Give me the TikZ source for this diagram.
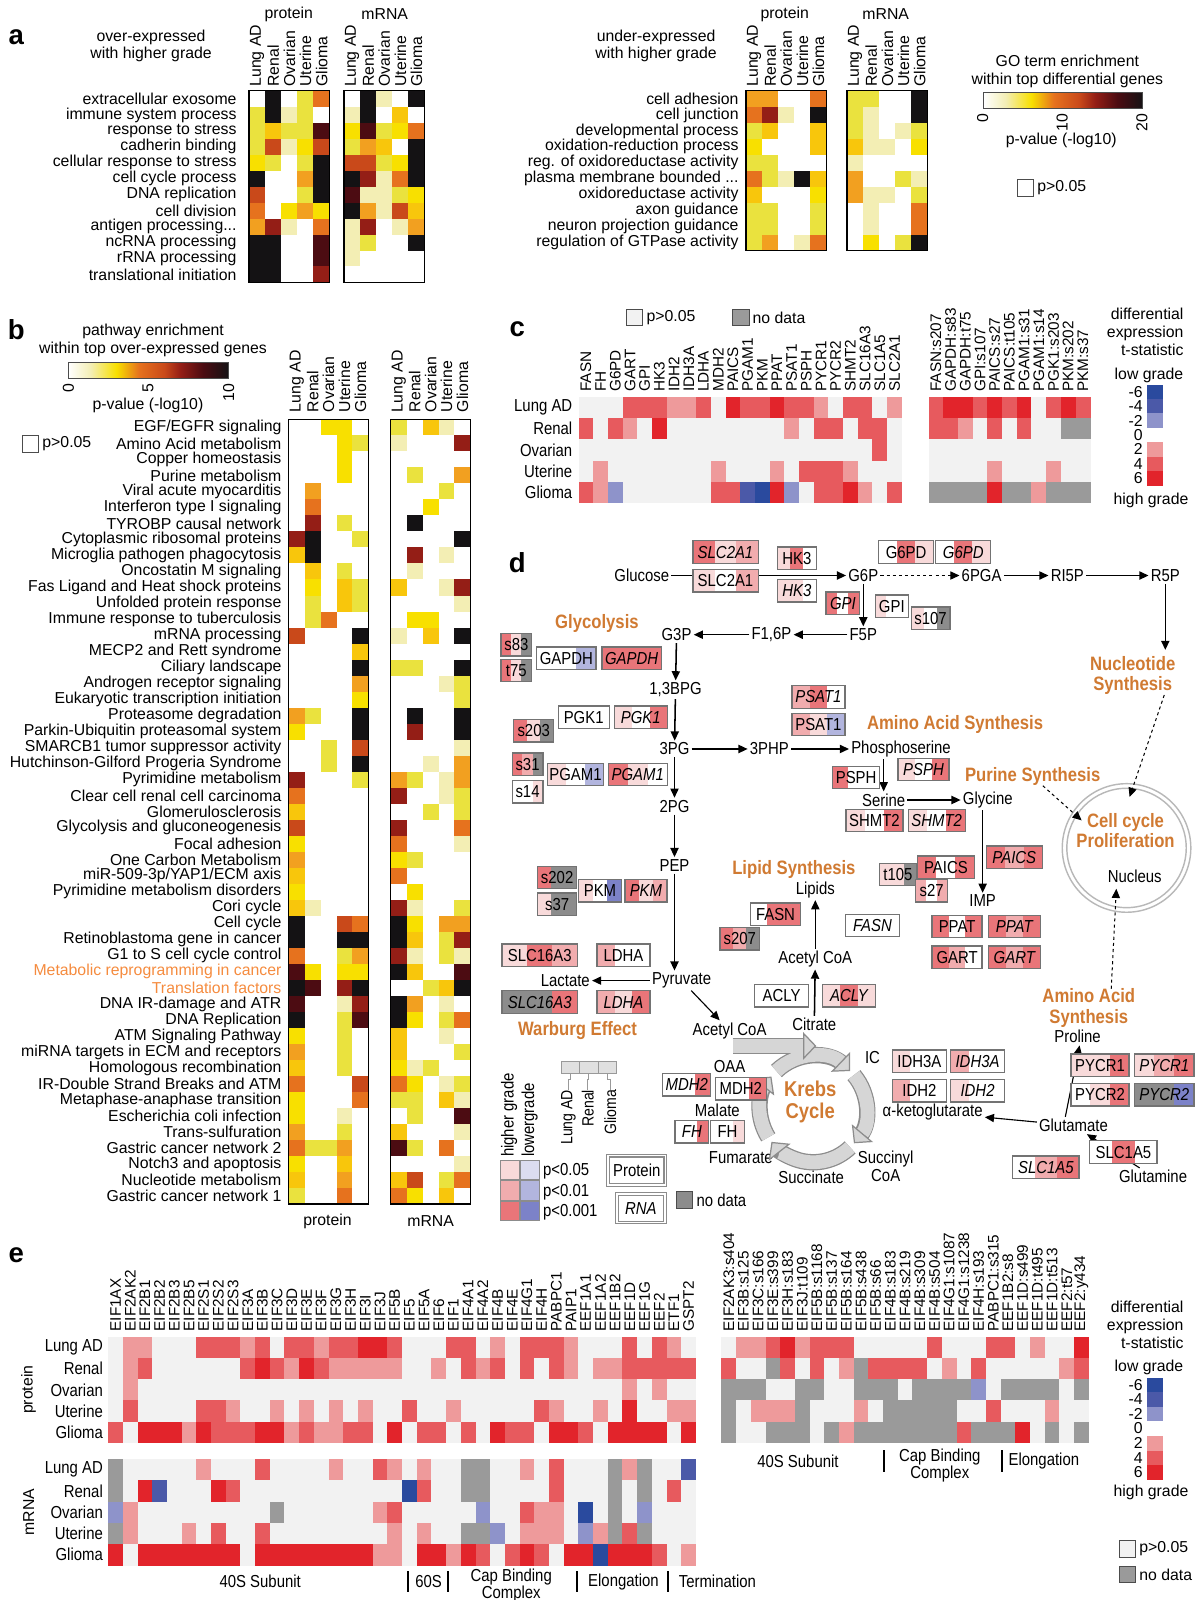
\documentclass[tikz,border=0pt]{standalone}
\usepackage{fontspec}
\setmainfont{Liberation Sans}
\newfontfamily\narrow[FakeStretch=0.86]{Liberation Sans}
\usetikzlibrary{arrows.meta,positioning,calc}

% enrichment scale (white - yellow - red - black)
\definecolor{hmw}{HTML}{FFFFFF}
\definecolor{hm1}{HTML}{F3EEB4}
\definecolor{hm2}{HTML}{EAE23E}
\definecolor{hm3}{HTML}{F8E000}
\definecolor{hm4}{HTML}{F8C60C}
\definecolor{hm5}{HTML}{F2A020}
\definecolor{hm6}{HTML}{E6721E}
\definecolor{hm7}{HTML}{C9491A}
\definecolor{hm8}{HTML}{941E16}
\definecolor{hm9}{HTML}{4C0C12}
\definecolor{hmk}{HTML}{141214}
% t-statistic scale
\definecolor{hmo}{HTML}{F2F2F2}
\definecolor{hma}{HTML}{EE9A9B}
\definecolor{hmb}{HTML}{E75A5E}
\definecolor{hmc}{HTML}{E2242B}
\definecolor{hmx}{HTML}{8E93CA}
\definecolor{hmy}{HTML}{4B59A8}
\definecolor{hmz}{HTML}{2A4A9E}
\definecolor{hmg}{HTML}{9A9A9A}
% pathway boxes
\definecolor{d0}{HTML}{FFFFFF}
\definecolor{d1}{HTML}{F8DADA}
\definecolor{d2}{HTML}{F1ACAE}
\definecolor{d3}{HTML}{E97579}
\definecolor{du}{HTML}{DCDDF0}
\definecolor{dv}{HTML}{B2B5DE}
\definecolor{dw}{HTML}{7C82C8}
\definecolor{dg}{HTML}{8C8C8C}
\definecolor{pathorange}{HTML}{D07A32}
\definecolor{listorange}{HTML}{F58B3E}

\pgfdeclarehorizontalshading{hotbar}{100bp}{color(0bp)=(white); color(25bp)=(white);
  color(32bp)=(hm1); color(40bp)=(hm3); color(47bp)=(hm6); color(55bp)=(hm7);
  color(60bp)=(hm8); color(67bp)=(hm9); color(75bp)=(hmk); color(100bp)=(hmk)}

% one heat map row from a string of colour letters
\newcount\hcol
\newcommand\hrow[5]{%
  \pgfmathsetmacro\hrX{#1}\pgfmathsetmacro\hrY{#2}%
  \def\hrW{#3}\def\hrH{#4}\global\hcol=0
  \edef\hstr{#5}\expandafter\hrowparse\hstr\relax}
\def\hrowparse#1{%
  \ifx#1\relax\else
    \pgfmathsetmacro\hrC{\hrX+\the\hcol*\hrW}%
    \fill[hm#1] (\hrC,\hrY) rectangle +(\hrW+0.4,\hrH+0.4);%
    \global\advance\hcol by 1
    \expandafter\hrowparse
  \fi}

% gene box: name, x, y, width, text, Lung AD / Renal / Glioma colours
\newcommand\gene[8]{%
  \fill[d#6] ({#2-#4/2},{#3-11}) rectangle ++({#4/3},22);
  \fill[d#7] ({#2-#4/6},{#3-11}) rectangle ++({#4/3},22);
  \fill[d#8] ({#2+#4/6},{#3-11}) rectangle ++({#4/3},22);
  \node[genebox, minimum width=#4] (#1) at (#2,#3) {#5};}

\begin{document}
\begin{tikzpicture}[x=1pt, y=-1pt,
    every node/.style={inner sep=0pt},
    plabel/.style={font=\fontsize{27}{27}\selectfont\bfseries},
    txt/.style={font=\fontsize{15.5}{17.5}\selectfont},
    rowlbl/.style={txt, anchor=east},
    collbl/.style={txt, rotate=90, anchor=west},
    smlbl/.style={font=\fontsize{15}{15}\selectfont, rotate=90, anchor=west},
    nrlbl/.style={font=\narrow\fontsize{17}{17}\selectfont, anchor=east},
    grplbl/.style={font=\narrow\fontsize{17}{15}\selectfont, align=center},
    hmframe/.style={draw=black, line width=1.3pt},
    keybox/.style={draw=black!70, line width=0.8pt, minimum size=16pt},
    met/.style={font=\narrow\fontsize{17}{17}\selectfont, inner sep=2pt},
    pathway/.style={font=\narrow\fontsize{19}{20}\selectfont\bfseries, text=pathorange, align=center},
    genebox/.style={draw=black!55, line width=1.3pt, minimum height=22pt,
      font=\narrow\fontsize{17}{17}\selectfont},
    keyframe/.style={draw=black!45, double=white, double distance=1.5pt, line width=1.1pt,
      font=\narrow\fontsize{17}{17}\selectfont},
    arrow/.style={-{Triangle[length=9pt,width=8pt]}, line width=1.5pt},
    dasharrow/.style={-{Triangle[length=9pt,width=8pt]}, line width=1pt, dashed},
    krebsrim/.style={line width=16pt, draw=black!45, shorten >=10pt},
    krebsarc/.style={line width=13.5pt, draw=black!16,
      -{Triangle[length=13pt,width=27pt,line width=1.2pt,color=black!45,fill=black!16]}}
  ]
  \useasboundingbox (0,0) rectangle (1173,1568);

  %% ---------------- a ----------------
  \node[plabel] (la) at (16,36) {a};
  \node[txt, align=center] (aover) at (148,45) {over-expressed\\with higher grade};
  \node[txt] (aprot) at (283,14) {protein};
  \node[txt] (amrna) at (377,14) {mRNA};
  \node[txt, align=center] (aunder) at (643,45) {under-expressed\\with higher grade};
  \node[txt] (aprot2) at (769,14) {protein};
  \node[txt] (amrna2) at (868,14) {mRNA};
  \foreach \c [count=\i from 0] in {Lung AD,Renal,Ovarian,Uterine,Glioma} {
    \node[collbl] (apc\i) at (252+15.8*\i,85) {\c};
    \node[collbl] (amc\i) at (345+15.8*\i,85) {\c};
    \node[collbl] (bpc\i) at (739+15.8*\i,85) {\c};
    \node[collbl] (bmc\i) at (838+15.8*\i,85) {\c};
  }
  \foreach \t [count=\i from 0] in {extracellular exosome,
      immune system process,
      response to stress,
      cadherin binding,
      cellular response to stress,
      cell cycle process,
      DNA replication,
      cell division,
      {antigen processing.{}..},
      ncRNA processing,
      rRNA processing,
      translational initiation}
    \node[rowlbl] (ar\i) at (232,97+15.65*\i) {\t};
  \foreach \r [count=\i from 0] in {wkw26,2k12w,24229,27137,32w2k,kww5k,7ww2k,6w353,581w6,kkww9,kkww9,kkww8}
    {\hrow{244}{89+\i*15.65}{15.8}{15.65}{\r}}
  \foreach \r [count=\i from 0] in {wk1wk,1kw4w,39236,254wk,7723k,k816k,91123,k5174,18w15,12wwk,1wwww,wwwww}
    {\hrow{337}{89+\i*15.65}{15.8}{15.65}{\r}}
  \draw[hmframe] (244,89) rectangle +(79,187.8);
  \draw[hmframe] (337,89) rectangle +(79,187.8);

  \foreach \t [count=\i from 0] in {cell adhesion,
      cell junction,
      developmental process,
      oxidation-reduction process,
      reg. of oxidoreductase activity,
      {plasma membrane bounded .{}..},
      oxidoreductase activity,
      axon guidance,
      neuron projection guidance,
      regulation of GTPase activity}
    \node[rowlbl] (br\i) at (724,97+15.65*\i) {\t};
  \foreach \r [count=\i from 0] in {55ww6,681wk,24ww4,3www4,22www,621k4,4www3,22ww2,22ww2,25w16}
    {\hrow{731}{89+\i*15.65}{15.8}{15.65}{\r}}
  \foreach \r [count=\i from 0] in {22wwk,21wwk,21w12,411w3,1wwww,5ww21,511w2,w1ww6,w1ww6,w3w2k}
    {\hrow{830}{89+\i*15.65}{15.8}{15.65}{\r}}
  \draw[hmframe] (731,89) rectangle +(79,156.5);
  \draw[hmframe] (830,89) rectangle +(79,156.5);

  % GO colour bar
  \node[txt, align=center] (goti) at (1046,70) {GO term enrichment\\within top differential genes};
  \shade[shading=hotbar] (964,91) rectangle (1120,106);
  \draw[black!70, line width=1pt] (964,91) rectangle (1120,106);
  \node[txt, rotate=90, anchor=east] (got0) at (963,111) {0};
  \node[txt, rotate=90, anchor=east] (got1) at (1041,111) {10};
  \node[txt, rotate=90, anchor=east] (got2) at (1119,111) {20};
  \node[txt] (gopv) at (1040,138) {p-value (-log10)};
  \node[keybox] (gons) at (1005,184) {};
  \node[txt, right=3pt of gons] (gonst) {p>0.05};

  %% ---------------- b ----------------
  \node[plabel] (lb) at (16,323) {b};
  \node[txt, align=center] (bti) at (150,334) {pathway enrichment\\within top over-expressed genes};
  \shade[shading=hotbar] (67,355) rectangle (224,371);
  \draw[black!70, line width=1pt] (67,355) rectangle (224,371);
  \node[txt, rotate=90, anchor=east] (bt0) at (67,376) {0};
  \node[txt, rotate=90, anchor=east] (bt1) at (145,376) {5};
  \node[txt, rotate=90, anchor=east] (bt2) at (224,376) {10};
  \node[txt] (bpv) at (145,397) {p-value (-log10)};
  \node[keybox] (bns) at (30,435) {};
  \node[txt, right=3pt of bns] (bnst) {p>0.05};
  \foreach \c [count=\i from 0] in {Lung AD,Renal,Ovarian,Uterine,Glioma} {
    \node[collbl] (cpc\i) at (290.8+15.6*\i,404) {\c};
    \node[collbl] (cmc\i) at (390.8+15.6*\i,404) {\c};
  }
  \foreach \t [count=\i from 0] in {EGF/EGFR signaling,
      Amino Acid metabolism,
      Copper homeostasis,
      Purine metabolism,
      Viral acute myocarditis,
      Interferon type I signaling,
      TYROBP causal network,
      Cytoplasmic ribosomal proteins,
      Microglia pathogen phagocytosis,
      Oncostatin M signaling,
      Fas Ligand and Heat shock proteins,
      Unfolded protein response,
      Immune response to tuberculosis,
      mRNA processing,
      MECP2 and Rett syndrome,
      Ciliary landscape,
      Androgen receptor signaling,
      Eukaryotic transcription initiation,
      Proteasome degradation,
      Parkin-Ubiquitin proteasomal system,
      SMARCB1 tumor suppressor activity,
      Hutchinson-Gilford Progeria Syndrome,
      Pyrimidine metabolism,
      Clear cell renal cell carcinoma,
      Glomerulosclerosis,
      Glycolysis and gluconeogenesis,
      Focal adhesion,
      One Carbon Metabolism,
      miR-509-3p/YAP1/ECM axis,
      Pyrimidine metabolism disorders,
      Cori cycle,
      Cell cycle,
      Retinoblastoma gene in cancer,
      G1 to S cell cycle control,
      {\textcolor{listorange}{Metabolic reprogramming in cancer}},
      {\textcolor{listorange}{Translation factors}},
      DNA IR-damage and ATR,
      DNA Replication,
      ATM Signaling Pathway,
      miRNA targets in ECM and receptors,
      Homologous recombination,
      IR-Double Strand Breaks and ATM,
      Metaphase-anaphase transition,
      Escherichia coli infection,
      Trans-sulfuration,
      Gastric cancer network 2,
      Notch3 and apoptosis,
      Nucleotide metabolism,
      Gastric cancer network 1}
    \node[rowlbl] (pw\i) at (276,419+15.69*\i) {\t};
  \foreach \r [count=\i from 0] in {ww33w,www32,www3w,www3w,w5www,w6www,w8w2w,8kww2,4kwww,w4w2w,
      w3w42,w2w42,w26ww,7wwwk,wwww4,wwwwk,wwww5,wwww3,52wwk,3wwwk,
      ww2w7,ww2wk,8www2,6wwww,4wwww,7wwww,3wwww,5wwww,4wwww,3wwww,
      41www,kww76,kwwkk,6ww25,93w33,k9w8k,9ww18,kww29,3ww2w,5ww2w,
      4ww2w,6www7,3www6,3ww1w,5ww2w,6225w,3ww4w,4ww5w,2ww6w}
    {\hrow{283}{411+\i*15.69}{15.6}{15.69}{\r}}
  \foreach \r [count=\i from 0] in {2w41w,1www8,wwwww,w2ww5,www2w,ww3ww,wkwww,wwwwk,w8w1w,w1www,
      4ww18,wwww1,w33ww,1w4wk,wwwww,22wwk,www12,wwww2,wkwwk,w8wwk,
      wwww1,ww1w5,52w15,8ww12,ww2w2,8www6,6www1,32www,6wwww,w3www,
      81ww2,k3w55,k4w28,81w21,k4ww9,ww24k,k5w1w,k3w26,4ww1w,4www2,
      312ww,63w12,22w41,w2ww9,4www1,92w6w,wwww1,47w26,63w4w}
    {\hrow{383}{411+\i*15.69}{15.6}{15.69}{\r}}
  \draw[hmframe] (283,411) rectangle +(78,768.8);
  \draw[hmframe] (383,411) rectangle +(78,768.8);
  \node[txt] (bprot) at (321,1197) {protein};
  \node[txt] (bmrna) at (422,1197) {mRNA};

  %% ---------------- c ----------------
  \node[plabel] (lc) at (507,323) {c};
  \node[keybox, fill=hmo] (cns) at (622,311) {};
  \node[txt, right=3pt of cns] (cnst) {p>0.05};
  \node[keybox, fill=hmg] (cnd) at (726,311) {};
  \node[txt, right=3pt of cnd] (cndt) {no data};
  \foreach \c [count=\i from 0] in {FASN,FH,G6PD,GART,GPI,HK3,IDH2,IDH3A,LDHA,MDH2,PAICS,
      PGAM1,PKM,PPAT,PSAT1,PSPH,PYCR1,PYCR2,SHMT2,SLC16A3,SLC1A5,SLC2A1}
    \node[smlbl] (cg\i) at (574.2+14.4*\i,384) {\c};
  \foreach \c [count=\i from 0] in {FASN:s207,GAPDH:s83,GAPDH:t75,GPI:s107,PAICS:s27,
      PAICS:t105,PGAM1:s31,PGAM1:s14,PGK1:s203,PKM:s202,PKM:s37}
    \node[smlbl] (cs\i) at (917.2+14.4*\i,384) {\c};
  \foreach \t [count=\i from 0] in {Lung AD,Renal,Ovarian,Uterine,Glioma}
    \node[nrlbl] (cr\i) at (561,399.4+20.8*\i) {\t};
  \foreach \r [count=\i from 0] in {ooobbbaabocbbcbbaobboa,bobaocooooooooaobbobbo,
      oooooooooooooooooooobo,oaoooooooaoooaobbbaooo,baxoooooobbyzcxobbcaob}
    {\hrow{567}{389+\i*20.8}{14.4}{20.8}{\r}}
  \foreach \r [count=\i from 0] in {bccbcbcobcb,bbaoboboogg,ooooooooooo,ooooaoooaoo,ggggcggaggg}
    {\hrow{910}{389+\i*20.8}{14.4}{20.8}{\r}}
  % t-statistic key
  \node[txt, align=right, anchor=east] (ckt) at (1160,325) {differential\\expression\\t-statistic};
  \node[txt] (cklo) at (1126,368) {low grade};
  \foreach \c [count=\i from 0] in {hmz,hmy,hmx,white,hma,hmb,hmc}
    \fill[\c] (1124,377+14.1*\i) rectangle +(16,14.5);
  \foreach \n [count=\i from 0] in {-6,-4,-2,0,2,4,6}
    \node[txt, anchor=east] (ckn\i) at (1120,384+14.1*\i) {\n};
  \node[txt] (ckhi) at (1128,490) {high grade};

  %% ---------------- d ----------------
  \node[plabel] (ld) at (507,551) {d};
  \coordinate (cc) at (1104,831);
  \coordinate (nucN) at (1107,781);
  \coordinate (nucW) at (1060,804);
  \coordinate (nucS) at (1094,871);
  \coordinate (kc) at (797,1087);
  \coordinate (acin) at (718,1025);
  \coordinate (acout) at (800,1025);
  \draw[black!28, line width=1.4pt] (cc) circle[radius=63];
  \draw[black!28, line width=1.4pt] (cc) circle[radius=58.5];

  % metabolites
  \node[met] (glucose) at (629,564) {Glucose};
  \node[met] (g6p) at (846,564) {G6P};
  \node[met] (pga6) at (962,564) {6PGA};
  \node[met] (ri5p) at (1046,564) {RI5P};
  \node[met] (r5p) at (1142,564) {R5P};
  \node[met] (f5p) at (846,622) {F5P};
  \node[met] (f16p) at (756,622) {F1,6P};
  \node[met] (g3p) at (663,622) {G3P};
  \node[met] (bpg) at (662,676) {1,3BPG};
  \node[met] (pg3) at (661,734) {3PG};
  \node[met] (php) at (754,734) {3PHP};
  \node[met] (pser) at (883,734) {Phosphoserine};
  \node[met] (pg2) at (661,790) {2PG};
  \node[met] (serine) at (866,784) {Serine};
  \node[met] (glycine) at (968,784) {Glycine};
  \node[met] (pep) at (661,848) {PEP};
  \node[met] (imp) at (963,883) {IMP};
  \node[met] (lipids) at (799,872) {Lipids};
  \node[met] (acoaup) at (799,940) {Acetyl CoA};
  \node[met] (citrate) at (798,1004) {Citrate};
  \node[met] (pyruvate) at (668,961) {Pyruvate};
  \node[met] (lactate) at (554,961) {Lactate};
  \node[met] (acoa) at (715,1010) {Acetyl CoA};
  \node[met] (oaa) at (715,1045) {OAA};
  \node[met] (ic) at (855,1036) {IC};
  \node[met] (malate) at (703,1088) {Malate};
  \node[met] (fumarate) at (726,1134) {Fumarate};
  \node[met] (succinate) at (795,1154) {Succinate};
  \node[met, align=center] (succoa) at (868,1143) {Succinyl\\CoA};
  \node[met] (akg) at (914,1090) {α-ketoglutarate};
  \node[met] (glutamate) at (1052,1103) {Glutamate};
  \node[met] (glutamine) at (1130,1153) {Glutamine};
  \node[met] (proline) at (1056,1016) {Proline};
  \node[met] (nucleus) at (1112,859) {Nucleus};

  % pathway names
  \node[pathway] (glyco) at (585,611) {Glycolysis};
  \node[pathway] (nucsyn) at (1110,662) {Nucleotide\\Synthesis};
  \node[pathway] (aasyn) at (936,710) {Amino Acid Synthesis};
  \node[pathway] (pursyn) at (1012,761) {Purine Synthesis};
  \node[pathway] (ccyc) at (1103,814) {Cell cycle\\Proliferation};
  \node[pathway] (lipsyn) at (778,852) {Lipid Synthesis};
  \node[pathway] (warburg) at (566,1010) {Warburg Effect};
  \node[pathway] (aasyn2) at (1067,988) {Amino Acid\\Synthesis};

  % Krebs cycle
  \foreach \a/\b in {226/314,320/400,46/142,148/218}
    \draw[krebsrim] ([shift={(\a:52)}]kc) arc[start angle=\a, end angle=\b, radius=52];
  \draw[krebsrim] (acin) -- (acout);
  \foreach \a/\b in {226/314,320/400,46/142,148/218}
    \draw[krebsarc] ([shift={(\a:52)}]kc) arc[start angle=\a, end angle=\b, radius=52];
  \draw[krebsarc] (acin) -- (acout);
  \node[pathway, font=\narrow\fontsize{21}{21}\selectfont\bfseries] (krebs) at (794,1080) {Krebs\\Cycle};

  % reactions
  \draw[arrow] (glucose) -- (g6p);
  \draw[dasharrow, line width=1.2pt] (g6p) -- (pga6);
  \draw[arrow] (pga6) -- (ri5p);
  \draw[arrow] (ri5p) -- (r5p);
  \draw[arrow, shorten >=6pt] (r5p) -- (r5p |- nucsyn.north);
  \draw[arrow] (g6p) -- (f5p);
  \draw[arrow] (f5p) -- (f16p);
  \draw[arrow] (f16p) -- (g3p);
  \draw[arrow] (g3p) -- (bpg);
  \draw[arrow] (bpg) -- (pg3);
  \draw[arrow] (pg3) -- (pg2);
  \draw[arrow] (pg2) -- (pep);
  \draw[arrow] (pep) -- (pep |- pyruvate.north);
  \draw[arrow] (pg3) -- (php);
  \draw[arrow] (php) -- (pser);
  \draw[arrow] (serine.north |- pser.south) -- (serine);
  \draw[arrow] (serine) -- (glycine);
  \draw[arrow] (imp.north |- glycine.south) -- (imp);
  \draw[arrow] (pyruvate) -- (lactate);
  \draw[arrow, line width=1.1pt] (pyruvate) -- (acoa);
  \draw[arrow] (citrate) -- (acoaup);
  \draw[arrow] (acoaup) -- (lipids);
  \draw[arrow, line width=1.1pt] (glutamate) -- (akg);
  \draw[arrow, line width=1.1pt] ([xshift=-8pt]glutamate.north) -- ([xshift=2pt]proline.south);
  \draw[arrow, line width=1.1pt] (glutamine) -- (glutamate);
  \draw[dasharrow] ([xshift=31pt]nucsyn.south) -- (nucN);
  \draw[dasharrow] ([xshift=10pt]pursyn.south) -- (nucW);
  \draw[dasharrow] ([xshift=22pt]aasyn2.north) -- (nucS);

  % protein (upright) and RNA (italic) boxes
  \gene{slcaR}{711}{541}{64}{\itshape SLC2A1}{3}{1}{2}
  \gene{slcaP}{711}{569}{64}{SLC2A1}{1}{0}{2}
  \gene{hkP}{781}{547}{38}{HK3}{1}{3}{0}
  \gene{hkR}{781}{579}{38}{\itshape HK3}{1}{1}{0}
  \gene{gpdP}{888}{541}{54}{G6PD}{0}{3}{1}
  \gene{gpdR}{944}{541}{54}{\itshape G6PD}{0}{3}{1}
  \gene{gpiR}{826}{591}{33}{\itshape GPI}{3}{0}{3}
  \gene{gpiP}{874}{594}{32}{GPI}{1}{0}{0}
  \gene{sA}{912}{606}{38}{s107}{1}{0}{g}
  \gene{sB}{506}{632}{30}{s83}{3}{1}{g}
  \gene{sC}{506}{657}{30}{t75}{3}{1}{g}
  \gene{gapP}{555}{645}{58}{GAPDH}{0}{0}{v}
  \gene{gapR}{619}{645}{58}{\itshape GAPDH}{3}{3}{3}
  \gene{sD}{523}{716}{39}{s203}{3}{1}{g}
  \gene{pgkP}{572}{703}{50}{PGK1}{0}{0}{0}
  \gene{pgkR}{628}{703}{52}{\itshape PGK1}{1}{0}{3}
  \gene{psatR}{802}{683}{52}{\itshape PSAT1}{2}{3}{0}
  \gene{psatP}{802}{710}{52}{PSAT1}{2}{1}{v}
  \gene{sE}{517}{749}{30}{s31}{3}{2}{g}
  \gene{sF}{517}{776}{30}{s14}{0}{0}{1}
  \gene{pgamP}{564}{759}{55}{PGAM1}{1}{0}{v}
  \gene{pgamR}{625}{759}{58}{\itshape PGAM1}{3}{1}{0}
  \gene{psphP}{839}{762}{46}{PSPH}{3}{0}{0}
  \gene{psphR}{905}{754}{50}{\itshape PSPH}{1}{0}{3}
  \gene{shmP}{857}{804}{56}{SHMT2}{1}{0}{3}
  \gene{shmR}{918}{804}{56}{\itshape SHMT2}{1}{0}{3}
  \gene{paicsR}{994}{840}{55}{\itshape PAICS}{3}{2}{3}
  \gene{paicsP}{927}{850}{56}{PAICS}{3}{0}{3}
  \gene{sG}{880}{857}{36}{t105}{1}{1}{g}
  \gene{sH}{913}{873}{31}{s27}{2}{0}{2}
  \gene{ppatP}{938}{908}{49}{PPAT}{3}{0}{3}
  \gene{ppatR}{994}{908}{51}{\itshape PPAT}{3}{2}{3}
  \gene{gartP}{938}{938}{49}{GART}{3}{2}{0}
  \gene{gartR}{994}{938}{51}{\itshape GART}{3}{2}{3}
  \gene{sI}{546}{860}{38}{s202}{3}{g}{g}
  \gene{sJ}{546}{886}{38}{s37}{1}{g}{g}
  \gene{pkmP}{588}{873}{42}{PKM}{1}{0}{w}
  \gene{pkmR}{633}{873}{41}{\itshape PKM}{3}{1}{2}
  \gene{fasnP}{760}{896}{49}{FASN}{0}{3}{3}
  \gene{sK}{725}{920}{39}{s207}{3}{2}{g}
  \gene{fasnR}{855}{907}{53}{\itshape FASN}{0}{0}{0}
  \gene{aclyP}{766}{976}{53}{ACLY}{0}{0}{0}
  \gene{aclyR}{832}{976}{52}{\itshape ACLY}{1}{3}{1}
  \gene{mctP}{529}{936}{74}{SLC16A3}{1}{3}{2}
  \gene{ldhP}{611}{936}{52}{LDHA}{2}{0}{0}
  \gene{mctR}{529}{982}{74}{\itshape SLC16A3}{g}{g}{3}
  \gene{ldhR}{611}{982}{52}{\itshape LDHA}{2}{1}{3}
  \gene{mdhR}{673}{1063}{47}{\itshape MDH2}{0}{0}{3}
  \gene{mdhP}{726}{1067}{50}{MDH2}{0}{0}{3}
  \gene{fhR}{678}{1109}{33}{\itshape FH}{0}{0}{3}
  \gene{fhP}{713}{1109}{33}{FH}{0}{0}{1}
  \gene{idhaP}{901}{1040}{53}{IDH3A}{1}{0}{0}
  \gene{idhaR}{958}{1040}{53}{\itshape IDH3A}{2}{0}{0}
  \gene{idhP}{901}{1069}{53}{IDH2}{2}{0}{0}
  \gene{idhR}{958}{1069}{53}{\itshape IDH2}{1}{0}{0}
  \gene{pycaP}{1078}{1044}{57}{PYCR1}{1}{1}{3}
  \gene{pycaR}{1141}{1044}{58}{\itshape PYCR1}{1}{2}{3}
  \gene{pycbP}{1078}{1073}{57}{PYCR2}{0}{1}{3}
  \gene{pycbR}{1141}{1073}{58}{\itshape PYCR2}{g}{g}{w}
  \gene{ascP}{1101}{1129}{66}{SLC1A5}{0}{3}{0}
  \gene{ascR}{1025}{1144}{65}{\itshape SLC1A5}{0}{2}{3}

  % key of panel d
  \node[font=\narrow\fontsize{17}{17}\selectfont, rotate=90, anchor=west] (khi) at (499,1134) {higher grade};
  \node[font=\narrow\fontsize{17}{17}\selectfont, rotate=90, anchor=west] (klo) at (519,1134) {lowergrade};
  \foreach \c [count=\i from 0] in {d1,d2,d3}
    \filldraw[fill=\c, draw=black!45, line width=0.8pt] (490,1137+20*\i) rectangle +(19,19);
  \foreach \c [count=\i from 0] in {du,dv,dw}
    \filldraw[fill=\c, draw=black!45, line width=0.8pt] (510,1137+20*\i) rectangle +(19,19);
  \foreach \t [count=\i from 0] in {p<0.05,p<0.01,p<0.001}
    \node[font=\narrow\fontsize{17}{17}\selectfont, anchor=west] (kp\i) at (532,1148+20*\i) {\t};
  \filldraw[fill=black!12, draw=black!40, line width=0.8pt] (550,1040) rectangle (604,1052);
  \draw[black!40, line width=0.8pt] (568,1040) -- (568,1052) (586,1040) -- (586,1052);
  \foreach \x/\lx/\t [count=\i from 0] in {559/557/Lung AD,577/576/Renal,595/598/Glioma} {
    \node[font=\narrow\fontsize{16}{16}\selectfont, rotate=90, anchor=east] (kt\i) at (\lx,1068) {\t};
    \draw[black!40, line width=0.8pt] (\x,1052) -- (\x,1058) -| (kt\i.east);
  }
  \node[keyframe, minimum width=56pt, minimum height=29pt] (kprot) at (624,1147) {Protein};
  \node[keyframe, minimum width=47pt, minimum height=28pt, font=\narrow\fontsize{17}{17}\selectfont\itshape] (krna) at (628,1184) {RNA};
  \node[keybox, fill=dg] (knd) at (671,1176) {};
  \node[font=\narrow\fontsize{17}{17}\selectfont, right=3pt of knd] (kndt) {no data};

  %% ---------------- e ----------------
  \node[plabel] (le) at (16,1230) {e};
  \foreach \c [count=\i from 0] in {EIF1AX,EIF2AK2,EIF2B1,EIF2B2,EIF2B3,EIF2B5,EIF2S1,EIF2S2,
      EIF2S3,EIF3A,EIF3B,EIF3C,EIF3D,EIF3E,EIF3F,EIF3G,EIF3H,EIF3I,EIF3J,EIF5B,EIF5,EIF5A,
      EIF6,EIF1,EIF4A1,EIF4A2,EIF4B,EIF4E,EIF4G1,EIF4H,PABPC1,PAIP1,EEF1A1,EEF1A2,EEF1B2,
      EEF1D,EEF1G,EEF2,ETF1,GSPT2}
    \node[smlbl] (eg\i) at (113.2+14.4*\i,1305) {\c};
  \foreach \c [count=\i from 0] in {EIF2AK3:s404,EIF3B:s125,EIF3C:s166,EIF3E:s399,EIF3H:s183,
      EIF3J:t109,EIF5B:s1168,EIF5B:s137,EIF5B:s164,EIF5B:s438,EIF5B:s66,EIF4B:s183,
      EIF4B:s219,EIF4B:s309,EIF4B:s504,EIF4G1:s1087,EIF4G1:s1238,EIF4H:s193,PABPC1:s315,
      EEF1B2:s8,EEF1D:s499,EEF1D:t495,EEF1D:t513,EEF2:t57,EEF2:y434}
    \node[smlbl] (es\i) at (714.2+14.4*\i,1305) {\c};
  \foreach \t [count=\i from 0] in {Lung AD,Renal,Ovarian,Uterine,Glioma} {
    \node[nrlbl] (ep\i) at (101,1320.4+20.8*\i) {\t};
    \node[nrlbl] (em\i) at (101,1440.4+20.8*\i) {\t};
  }
  \node[txt, rotate=90] (eprot) at (28,1362) {protein};
  \node[txt, rotate=90] (emrna) at (28,1482) {mRNA};
  \foreach \r [count=\i from 0] in {oaaooobbbabobbabbccbooobboaobbbaooobobao,
      oaboooooobcbacbaaaaaooaobabobobaoaabbbbb,
      oaoooooooooooooooooooooooooooooooooaoaoo,
      oboooobbaooaoaoaoaoobooaooooobaooaocooaa,
      bocccacbbbccabaabbocobbobocbboccboccccoc}
    {\hrow{106}{1310+\i*20.8}{14.4}{20.8}{\r}}
  \foreach \r [count=\i from 0] in {goooooaooobooooaoobaoaooggooaobooogagooy,
      gocyooocbooooooooooozbooggoooobooogogobo,
      xaooooooooogooooooaboooooxoobaaozogoxooo,
      gaoooaoboobooooooooaoaooggxoaaaoxagbgooo,
      cocccccccoccccccccaaoccacbobcbocczcccboa}
    {\hrow{106}{1430+\i*20.8}{14.4}{20.8}{\r}}
  \foreach \r [count=\i from 0] in {oaabcabbbooooobooobboaooc,boogboboagbbbboaoboooooab,
      gggooggoogggoggggxoggggog,goaaagoooaogggggooboooaoo,googggogagggggggbgggcogog}
    {\hrow{707}{1310+\i*20.8}{14.4}{20.8}{\r}}
  % groups
  \node[grplbl] (eg40) at (255,1550) {40S Subunit};
  \node[grplbl] (eg60) at (420,1550) {60S};
  \node[grplbl] (egcap) at (501,1554) {Cap Binding\\Complex};
  \node[grplbl] (egel) at (611,1550) {Elongation};
  \node[grplbl] (egte) at (703,1550) {Termination};
  \foreach \x in {400,439,565,655}
    \draw[line width=2pt] (\x,1540) -- (\x,1560);
  \node[grplbl] (eh40) at (782,1432) {40S Subunit};
  \node[grplbl] (ehcap) at (921,1436) {Cap Binding\\Complex};
  \node[grplbl] (ehel) at (1023,1432) {Elongation};
  \foreach \x in {866,982}
    \draw[line width=2pt] (\x,1421) -- (\x,1443);
  % t-statistic key
  \node[txt, align=right, anchor=east] (ekt) at (1160,1298) {differential\\expression\\t-statistic};
  \node[txt] (eklo) at (1126,1340) {low grade};
  \foreach \c [count=\i from 0] in {hmz,hmy,hmx,white,hma,hmb,hmc}
    \fill[\c] (1124,1350+14.3*\i) rectangle +(16,14.7);
  \foreach \n [count=\i from 0] in {-6,-4,-2,0,2,4,6}
    \node[txt, anchor=east] (ekn\i) at (1120,1357+14.3*\i) {\n};
  \node[txt] (ekhi) at (1128,1463) {high grade};
  \node[keybox, fill=hmo] (ens) at (1105,1518) {};
  \node[txt, right=3pt of ens] (enst) {p>0.05};
  \node[keybox, fill=hmg] (end) at (1105,1543) {};
  \node[txt, right=3pt of end] (endt) {no data};
\end{tikzpicture}
\end{document}
